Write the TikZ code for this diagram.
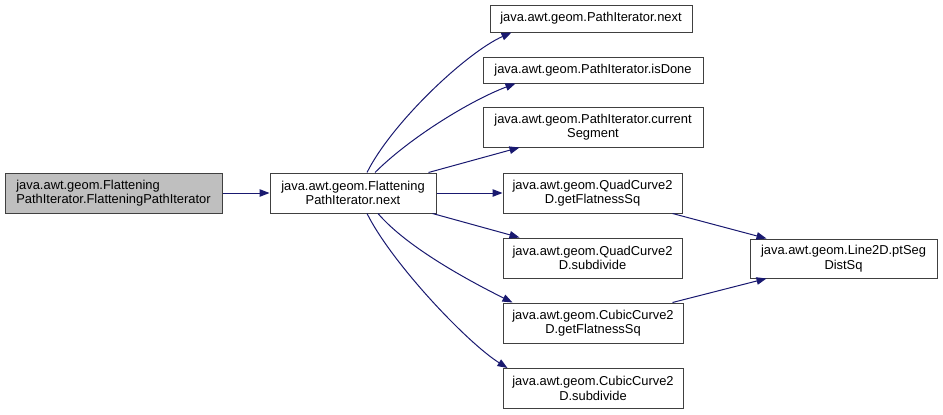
\documentclass[tikz,border=0pt]{standalone}
\usepackage{fontspec}
\setmainfont{Liberation Sans}
\usetikzlibrary{arrows.meta}
\definecolor{edgecol}{HTML}{191970}
\definecolor{boxline}{HTML}{404040}
\definecolor{boxgray}{HTML}{BFBFBF}
\tikzset{
  fn/.style={draw=boxline, line width=1pt, fill=white, inner sep=0pt, align=center,
    font=\fontsize{12.9}{14.5}\selectfont},
  edge/.style={draw=edgecol, line width=1pt, -{Triangle[length=10pt,width=7.5pt]}},
}
\begin{document}
\begin{tikzpicture}[x=1pt,y=-1pt]
\useasboundingbox (0,0) rectangle (943,415);
\node[fn, fill=boxgray, align=left, minimum width=217pt, minimum height=40pt] (A) at (113.5,193)
  {java.awt.geom.Flattening\\PathIterator.FlatteningPathIterator};
\node[fn, minimum width=166pt, minimum height=40pt] (B) at (353,193)
  {java.awt.geom.Flattening\\PathIterator.next};
\node[fn, minimum width=202pt, minimum height=27pt] (C1) at (591,18.5)
  {java.awt.geom.PathIterator.next};
\node[fn, minimum width=220pt, minimum height=26pt] (C2) at (593,70)
  {java.awt.geom.PathIterator.isDone};
\node[fn, minimum width=220pt, minimum height=40pt] (C3) at (593,127)
  {java.awt.geom.PathIterator.current\\Segment};
\node[fn, minimum width=179pt, minimum height=40pt] (C4) at (592.5,193)
  {java.awt.geom.QuadCurve2\\D.getFlatnessSq};
\node[fn, minimum width=179pt, minimum height=40pt] (C5) at (592.5,258)
  {java.awt.geom.QuadCurve2\\D.subdivide};
\node[fn, minimum width=180pt, minimum height=40pt] (C6) at (593,323)
  {java.awt.geom.CubicCurve2\\D.getFlatnessSq};
\node[fn, minimum width=180pt, minimum height=40pt] (C7) at (593,388.5)
  {java.awt.geom.CubicCurve2\\D.subdivide};
\node[fn, minimum width=187pt, minimum height=39pt] (D) at (843.5,258.5)
  {java.awt.geom.Line2D.ptSeg\\DistSq};

\draw[edge] (A.east) -- (B.west);
\draw[edge] ([xshift=14pt]B.north) .. controls +(25,-50) and +(-45,20) .. ([xshift=22pt]C1.south west);
\draw[edge] ([xshift=22pt]B.north) .. controls +(35,-35) and +(-45,17) .. ([xshift=33pt]C2.south west);
\draw[edge] ([xshift=-8pt]B.north east) -- ([xshift=37pt]C3.south west);
\draw[edge] (B.east) -- (C4.west);
\draw[edge] ([xshift=-4pt]B.south east) -- ([xshift=17pt]C5.north west);
\draw[edge] ([xshift=25pt]B.south) .. controls +(30,35) and +(-40,-20) .. ([xshift=10pt]C6.north west);
\draw[edge] ([xshift=14pt]B.south) .. controls +(25,50) and +(-40,-25) .. ([xshift=5pt]C7.north west);
\draw[edge] ([xshift=-10pt]C4.south east) -- ([xshift=17pt]D.north west);
\draw[edge] ([xshift=-11pt]C6.north east) -- ([xshift=17pt]D.south west);
\end{tikzpicture}
\end{document}
